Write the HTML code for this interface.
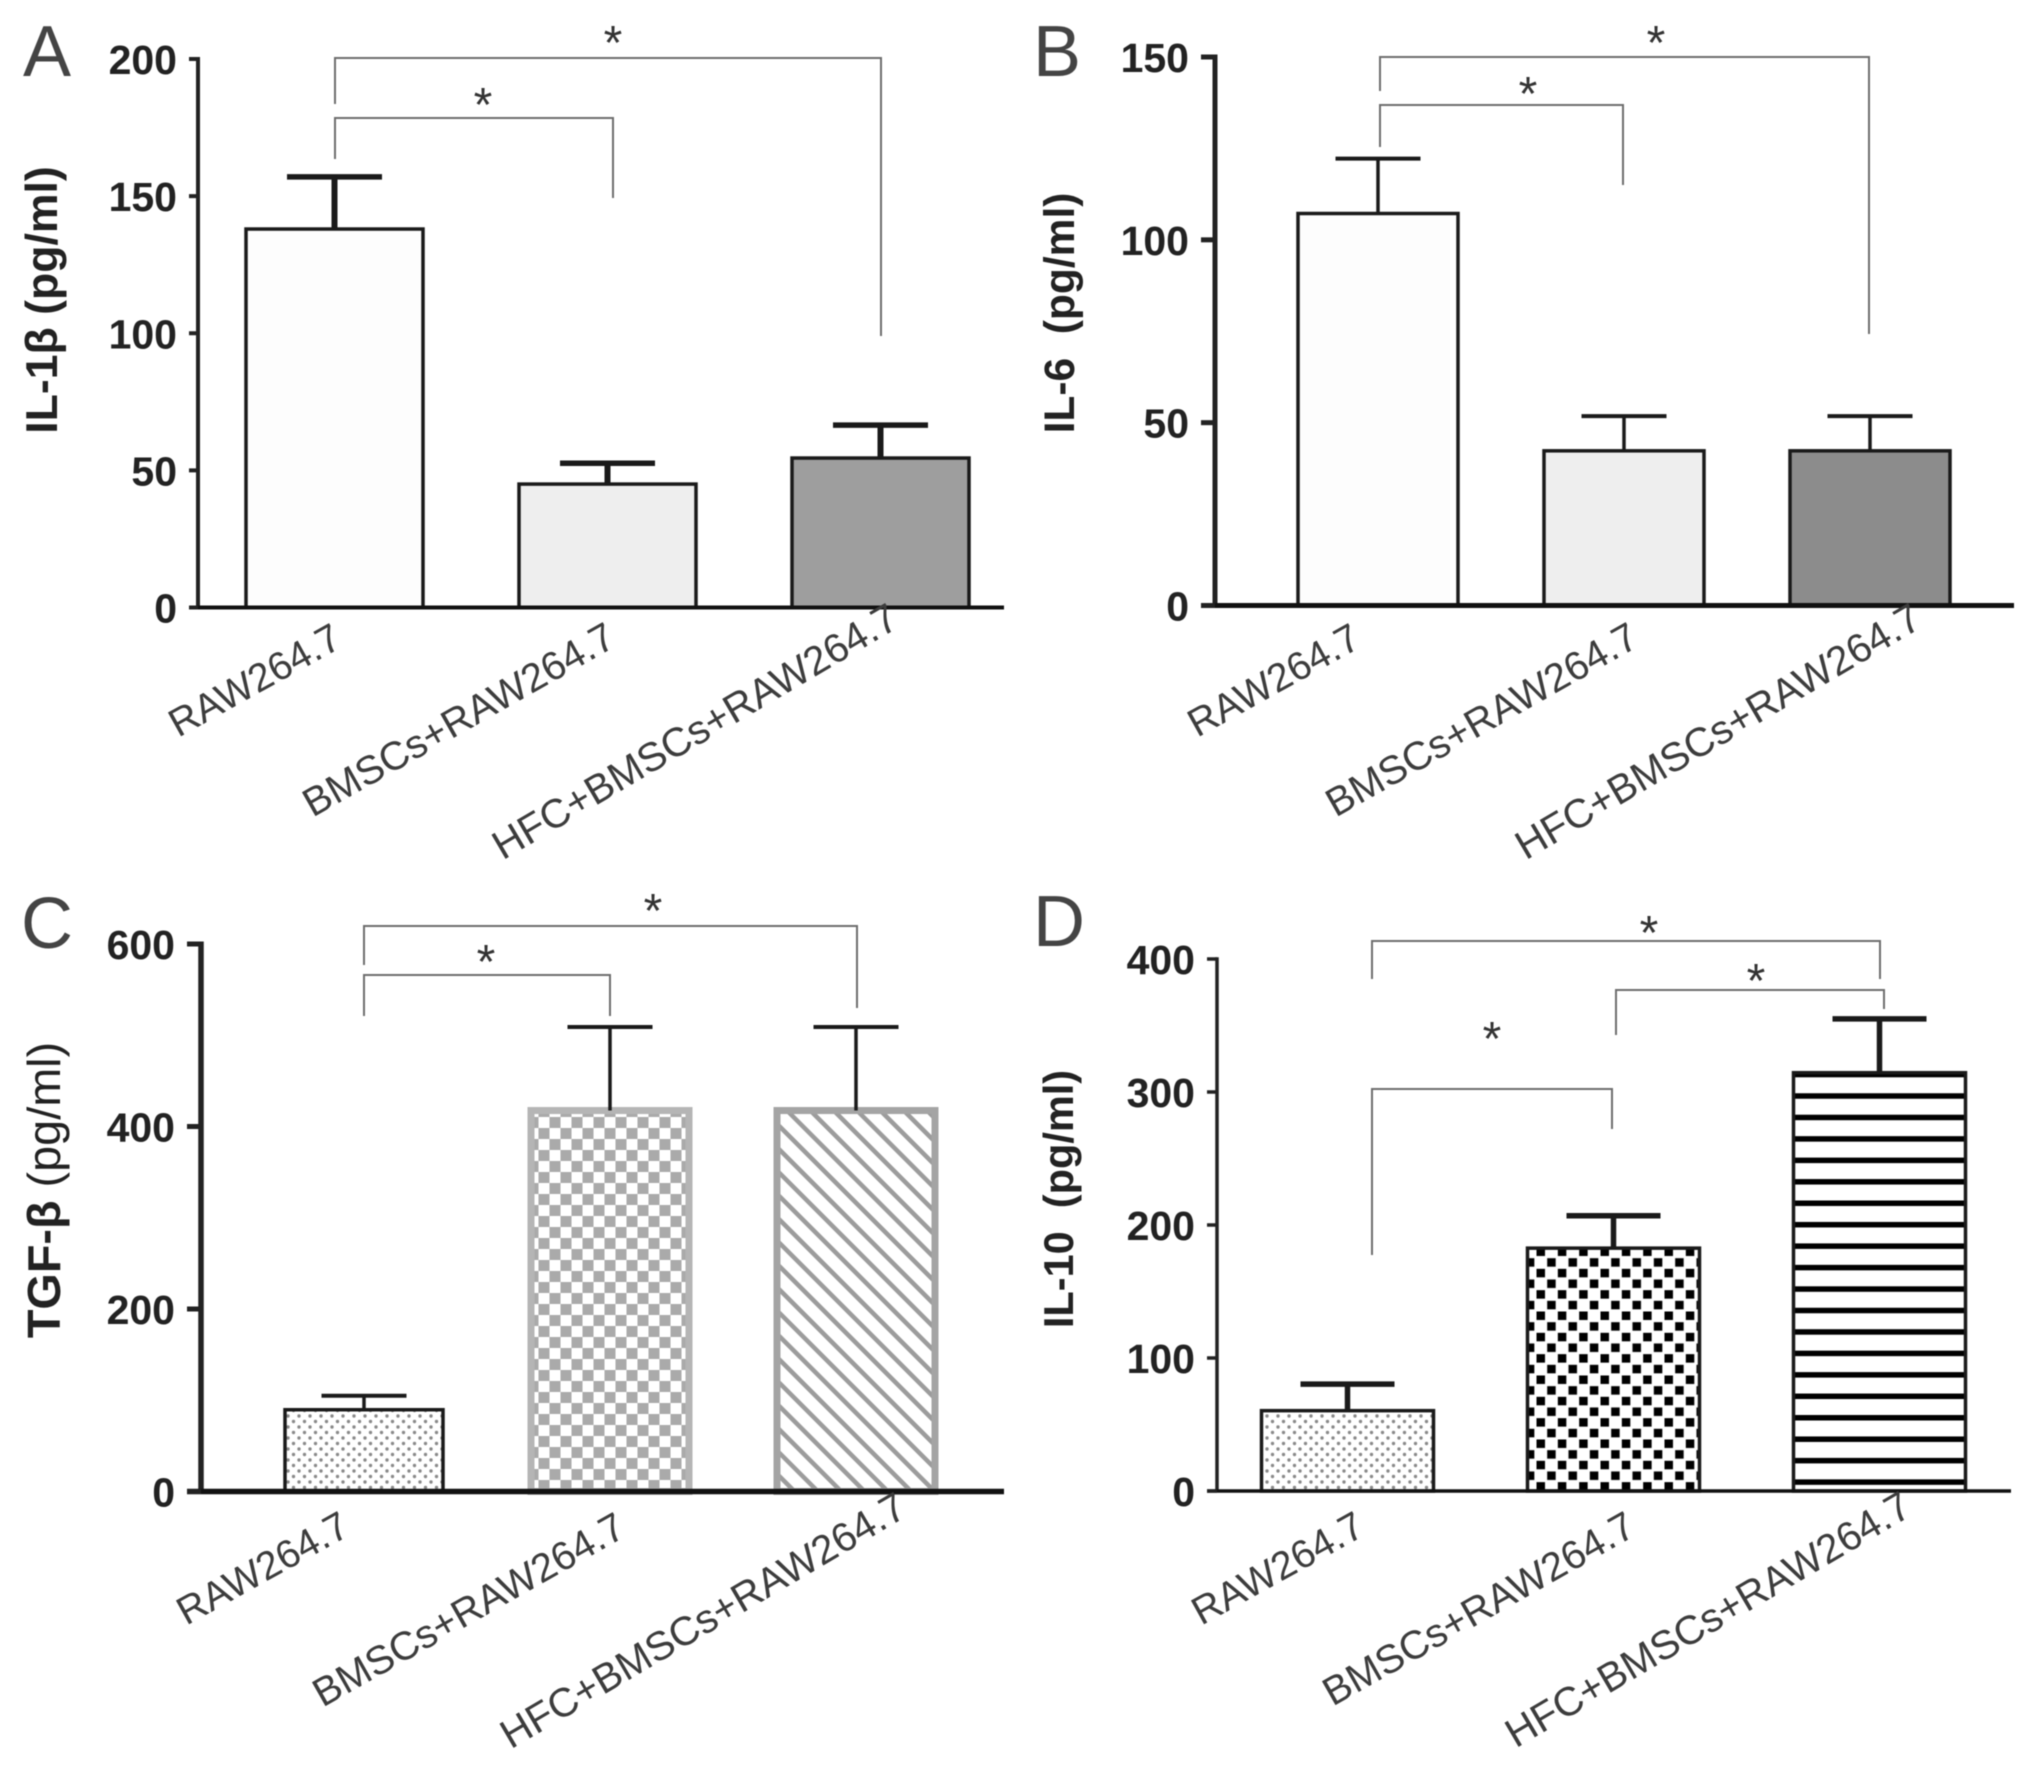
<!DOCTYPE html>
<html lang="en">
<head>
<meta charset="utf-8">
<title>Cytokine bar charts</title>
<style>
html,body{margin:0;padding:0;background:#fff;}
svg{display:block;}
text{font-family:"Liberation Sans",sans-serif;}
</style>
</head>
<body>
<svg id="figure" xmlns="http://www.w3.org/2000/svg" width="2031" height="1776" viewBox="0 0 2031 1776">
  <defs>
    <pattern id="dots" width="11" height="11" patternUnits="userSpaceOnUse" patternTransform="translate(288,1416)">
      <rect width="11" height="11" fill="#fff"/>
      <circle cx="0" cy="0" r="1.7" fill="#8a8a8a"/><circle cx="11" cy="0" r="1.7" fill="#8a8a8a"/>
      <circle cx="0" cy="11" r="1.7" fill="#8a8a8a"/><circle cx="11" cy="11" r="1.7" fill="#8a8a8a"/>
      <circle cx="5.5" cy="5.5" r="1.7" fill="#8a8a8a"/>
    </pattern>
    <pattern id="grayChecker" width="22" height="22" patternUnits="userSpaceOnUse" patternTransform="translate(-0.5,17)">
      <rect width="22" height="22" fill="#fff"/>
      <rect width="11" height="11" fill="#aaa"/>
      <rect x="11" y="11" width="11" height="11" fill="#aaa"/>
    </pattern>
    <pattern id="diagonal" width="16.5" height="16.5" patternUnits="userSpaceOnUse" patternTransform="rotate(-45)">
      <rect width="16.5" height="16.5" fill="#fff"/>
      <rect width="4.5" height="16.5" fill="#9c9c9c"/>
    </pattern>
    <pattern id="blackChecker" width="21.33" height="21.33" patternUnits="userSpaceOnUse" patternTransform="translate(1536.5,1247.5)">
      <rect width="21.33" height="21.33" fill="#fff"/>
      <rect width="8.5" height="8.5" fill="#000"/>
      <rect x="10.67" y="10.67" width="8.5" height="8.5" fill="#000"/>
    </pattern>
    <pattern id="hlines" width="21.45" height="21.45" patternUnits="userSpaceOnUse" patternTransform="translate(0,-0.7)">
      <rect width="21.45" height="21.45" fill="#fff"/>
      <rect y="0" width="21.45" height="5.5" fill="#000"/>
    </pattern>
  </defs>
  <g id="root" style="filter:blur(0.6px)"></g>
</svg>
<script>
// ---- data ----
const categories = ['RAW264.7', 'BMSCs+RAW264.7', 'HFC+BMSCs+RAW264.7'];

const ticksA = [0, 50, 100, 150, 200];
const meansA = [138, 45, 54.5];
const errorTopsA = [157, 52.6, 66.5];

const ticksB = [0, 50, 100, 150];
const meansB = [107.2, 42.3, 42.3];
const errorTopsB = [122.2, 51.8, 51.8];

const ticksC = [0, 200, 400, 600];
const meansC = [89.6, 417.5, 417.5];
const errorTopsC = [105, 509, 509];

const ticksD = [0, 100, 200, 300, 400];
const meansD = [60.4, 182.6, 314.5];
const errorTopsD = [80.4, 207, 355];

// ---- panel layout and annotations (pixels) ----
const labelSizes = [39.5, 40, 40.5];
const labelAngles = [29, 29.5, 30.5];

const panels = [
  { id: 'a', letter: 'A', letterX: 23, letterY: 76, title: 'IL-1β (pg/ml)', titleTail: '', titleX: 57, titleY: 300, titleSize: 44.6,
    ticks: ticksA, means: meansA, tops: errorTopsA,
    axisX: 198, tickLeft: 189, axisEnd: 1004, yTop: 59, yZero: 607.5, axisW: 4, tickW: 4,
    first: 334.5, step: 273, barW: 177, capW: 95, stemW: 6, capW2: 5.5, barStroke: 3.5,
    fills: ['#fdfdfd', '#eeeeee', '#9e9e9e'], strokes: ['#1a1a1a', '#1a1a1a', '#1a1a1a'],
    labelEnds: [[344, 646], [618, 645], [901, 626]],
    brackets: [[335, 159, 118, 613, 198], [335, 104, 58, 881, 336]],
    stars: [[483, 97], [613, 35]] },
  { id: 'b', letter: 'B', letterX: 1033, letterY: 76, title: 'IL-6  (pg/ml)', titleTail: '', titleX: 1074, titleY: 313, titleSize: 42.5,
    ticks: ticksB, means: meansB, tops: errorTopsB,
    axisX: 1215, tickLeft: 1201, axisEnd: 2014, yTop: 57, yZero: 605.5, axisW: 5, tickW: 5,
    first: 1378, step: 246, barW: 160, capW: 85, stemW: 3.5, capW2: 4, barStroke: 3.5,
    fills: ['#fdfdfd', '#eeeeee', '#8c8c8c'], strokes: ['#1a1a1a', '#1a1a1a', '#1a1a1a'],
    labelEnds: [[1363, 646], [1641, 645], [1924, 626]],
    brackets: [[1380, 147, 105, 1623, 185], [1380, 91, 57, 1869, 334]],
    stars: [[1528, 86], [1656, 35]] },
  { id: 'c', letter: 'C', letterX: 21, letterY: 948, title: 'TGF-β ', titleTail: '(pg/ml)', titleX: 60, titleY: 1190, titleSize: 46.8,
    ticks: ticksC, means: meansC, tops: errorTopsC,
    axisX: 201, tickLeft: 187, axisEnd: 1004, yTop: 944, yZero: 1491.5, axisW: 5.5, tickW: 5,
    first: 364, step: 246, barW: 158, capW: 85, stemW: 3.5, capW2: 4, barStroke: 3.5,
    fills: ['url(#dots)', 'url(#grayChecker)', 'url(#diagonal)'], strokes: ['#1a1a1a', '#b5b5b5', '#a4a4a4'],
    strokeWidths: [3.5, 7, 7],
    labelEnds: [[352, 1534], [628, 1535], [909, 1515]],
    brackets: [[364, 1016, 975, 610, 1016], [364, 965, 926, 857, 1008]],
    stars: [[486, 954], [653, 903]] },
  { id: 'd', letter: 'D', letterX: 1033, letterY: 946, title: 'IL-10  (pg/ml)', titleTail: '', titleX: 1073, titleY: 1199, titleSize: 41.5,
    ticks: ticksD, means: meansD, tops: errorTopsD,
    axisX: 1217, tickLeft: 1207, axisEnd: 2011, yTop: 959, yZero: 1491, axisW: 3.5, tickW: 3.5,
    first: 1347.5, step: 266, barW: 172, capW: 94, stemW: 5.5, capW2: 5.5, barStroke: 3.5,
    fills: ['url(#dots)', 'url(#blackChecker)', 'url(#hlines)'], strokes: ['#1a1a1a', '#1a1a1a', '#1a1a1a'],
    labelEnds: [[1367, 1534], [1638, 1534], [1914, 1514]],
    brackets: [[1372, 979, 941, 1880, 979], [1616, 1035, 990, 1884, 1009], [1372, 1255, 1089, 1612, 1129]],
    stars: [[1492, 1031], [1649, 925], [1756, 973]] }
];

const SVG_NS = 'http://www.w3.org/2000/svg';
const root = document.getElementById('root');

function make(parent, tag, attrs) {
  const el = document.createElementNS(SVG_NS, tag);
  for (const key in attrs) el.setAttribute(key, attrs[key]);
  parent.appendChild(el);
  return el;
}

function drawPanel(p) {
  const maxTick = Math.max.apply(null, p.ticks);
  const yScale = function (v) { return p.yZero - (v / maxTick) * (p.yZero - p.yTop); };
  const xScale = function (i) { return p.first + i * p.step; };

  const group = make(root, 'g', {});
  
  

  const letter = make(group, 'text', { x: p.letterX, y: p.letterY, 'font-size': 72, fill: '#444' });
  letter.textContent = p.letter;
  
  

  const title = make(group, 'text', {
    x: p.titleX, y: p.titleY, 'font-size': p.titleSize, 'font-weight': 'bold', fill: '#222',
    'text-anchor': 'middle',
    transform: 'rotate(-90 ' + p.titleX + ' ' + p.titleY + ')'
  });
  title.style.whiteSpace = 'pre';
  title.textContent = p.title;
  if (p.titleTail) {
    const tail = make(title, 'tspan', { 'font-weight': 'normal' });
    tail.textContent = p.titleTail;
    
    
  }
  
  

  // bars
  p.means.forEach(function (mean, i) {
    const cx = xScale(i);
    const top = yScale(mean);
    const bar = make(group, 'rect', {
      x: cx - p.barW / 2, y: top, width: p.barW, height: p.yZero - top,
      fill: p.fills[i], stroke: p.strokes[i],
      'stroke-width': p.strokeWidths ? p.strokeWidths[i] : p.barStroke
    });
    
    
  });

  // error bars
  p.tops.forEach(function (errTop, i) {
    const cx = xScale(i);
    const yTopErr = yScale(errTop);
    const stem = make(group, 'line', {
      x1: cx, x2: cx, y1: yScale(p.means[i]), y2: yTopErr, stroke: '#1a1a1a', 'stroke-width': p.stemW
    });
    
    
    const cap = make(group, 'line', {
      x1: cx - p.capW / 2, x2: cx + p.capW / 2, y1: yTopErr, y2: yTopErr, stroke: '#1a1a1a', 'stroke-width': p.capW2
    });
    
    
  });

  // axes
  const yAxis = make(group, 'line', {
    x1: p.axisX, x2: p.axisX, y1: p.yTop - p.tickW / 2, y2: p.yZero, stroke: '#222', 'stroke-width': p.axisW
  });
  
  

  const xAxis = make(group, 'line', {
    x1: p.tickLeft, x2: p.axisEnd, y1: p.yZero, y2: p.yZero, stroke: '#111', 'stroke-width': p.axisW
  });
  
  

  // y ticks
  p.ticks.forEach(function (t) {
    const y = yScale(t);
    const tick = make(group, 'line', { x1: p.tickLeft, x2: p.axisX, y1: y, y2: y, stroke: '#222', 'stroke-width': p.tickW });
    
    
    const label = make(group, 'text', {
      x: p.tickLeft - 12, y: y + 15, 'font-size': 41, 'font-weight': 'bold', fill: '#222', 'text-anchor': 'end'
    });
    label.textContent = String(t);
    
    
  });

  // category labels
  categories.forEach(function (name, i) {
    const end = p.labelEnds[i];
    const label = make(group, 'text', {
      x: end[0], y: end[1], 'font-size': labelSizes[i], fill: '#3c3c3c', 'text-anchor': 'end',
      transform: 'rotate(-' + labelAngles[i] + ' ' + end[0] + ' ' + end[1] + ')'
    });
    label.textContent = name;
    
    
  });

  // significance brackets
  p.brackets.forEach(function (b, i) {
    const path = make(group, 'path', {
      d: 'M' + b[0] + ' ' + b[1] + 'V' + b[2] + 'H' + b[3] + 'V' + b[4],
      fill: 'none', stroke: '#6e6e6e', 'stroke-width': 2
    });
    
    
  });

  p.stars.forEach(function (s, i) {
    const star = make(group, 'text', {
      x: s[0], y: s[1] + 24, 'font-size': 48, fill: '#333', 'text-anchor': 'middle'
    });
    star.textContent = '*';
    
    
  });
}

panels.forEach(drawPanel);
</script>
</body>
</html>
